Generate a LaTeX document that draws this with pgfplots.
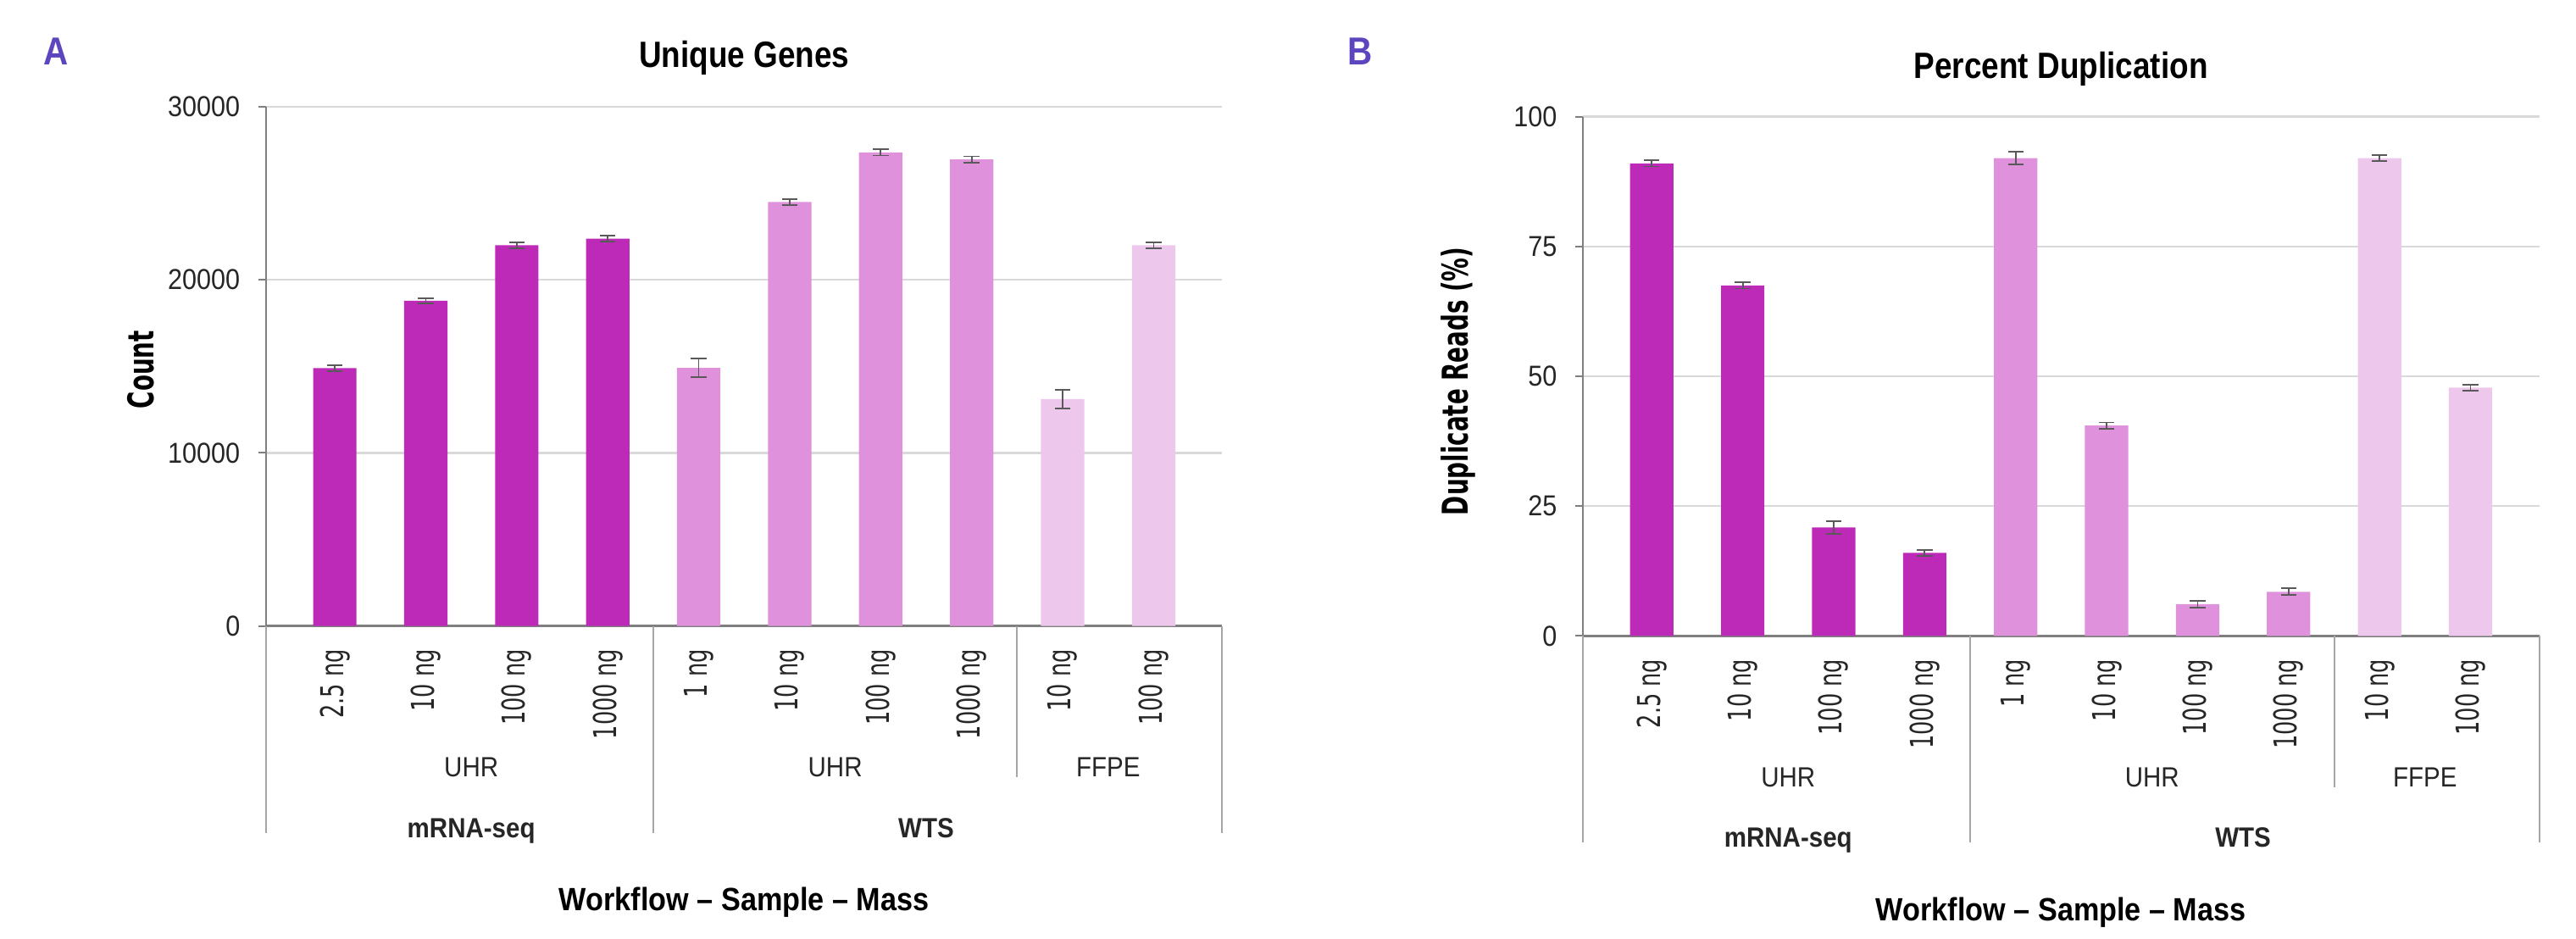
\documentclass[border=0pt]{standalone}
\usepackage{fontspec}
\setmainfont{Liberation Sans}[FakeStretch=0.9]
\newfontfamily\titlefont{Liberation Sans}[FakeStretch=0.855]
\newfontfamily\ylabfont{DejaVu Sans}[FakeStretch=0.66]
\newfontfamily\tickfont{DejaVu Sans}[FakeStretch=0.69]
\newfontfamily\panelfont{Liberation Sans}[FakeStretch=0.88]
\usepackage{pgfplots}
\usepackage{pgfplotstable}
\pgfplotsset{compat=1.18}

\definecolor{cdark}{HTML}{BD2AB8}
\definecolor{cmed}{HTML}{DF92DB}
\definecolor{clight}{HTML}{EDC8EC}
\definecolor{cpanel}{HTML}{5E45C0}
\definecolor{cgrid}{HTML}{D9D9D9}
\definecolor{caxis}{HTML}{7F7F7F}
\definecolor{csep}{HTML}{A6A6A6}
\definecolor{cerr}{HTML}{595959}
\definecolor{ctext}{HTML}{262626}

% Unique genes
\pgfplotstableread{
x y e
0 14900 160
1 18800 150
2 22000 160
3 22380 160
}\Amrna
\pgfplotstableread{
x y e
4 14920 530
5 24500 160
6 27360 175
7 26960 175
}\Awts
\pgfplotstableread{
x y e
8 13120 535
9 22000 175
}\Affpe
% Percent duplication
\pgfplotstableread{
x y e
0 91.0 0.6
1 67.5 0.6
2 20.9 1.2
3 16.0 0.6
}\Bmrna
\pgfplotstableread{
x y e
4 92.0 1.25
5 40.5 0.6
6 6.1 0.6
7 8.5 0.65
}\Bwts
\pgfplotstableread{
x y e
8 92.0 0.6
9 47.8 0.6
}\Bffpe

\pgfplotsset{
  chart/.style={
    scale only axis, width=282.09pt, height=153.16pt,
    xmin=-0.755, xmax=9.755, ymin=0,
    axis x line*=bottom, axis y line*=left,
    x axis line style={-, draw=caxis, line width=0.9pt},
    y axis line style={-, draw=caxis, line width=0.5pt},
    xtick={0,...,9},
    xticklabels={2.5 ng,10 ng,100 ng,1000 ng,1 ng,10 ng,100 ng,1000 ng,10 ng,100 ng},
    xtick style={draw=none},
    xticklabel style={rotate=90, anchor=east, inner sep=0pt,
      font=\tickfont\fontsize{9.3}{10}\selectfont, text=ctext},
    xticklabel shift=4.4pt,
    tick align=outside, major tick length=2.25pt,
    ytick style={draw=caxis, line width=0.5pt},
    scaled y ticks=false,
    yticklabel style={anchor=east, inner sep=0pt, xshift=-5.25pt,
      font=\fontsize{8.5}{10}\selectfont, text=ctext},
    /pgf/number format/assume math mode=true,
    /pgf/number format/1000 sep={},
    ymajorgrids, grid style={draw=cgrid, line width=0.6pt},
    clip=false,
  },
  bars/.style={ybar, bar width=12.8pt, bar shift=0pt, draw=none, fill=#1,
    error bars/.cd, y dir=both, y explicit, error mark=|,
    error bar style={draw=cerr, line width=0.45pt, solid},
    error mark options={draw=cerr, line width=0.45pt, mark size=2.3pt}},
}

\newcommand{\groups}{%
  \draw[csep, line width=0.5pt] (rel axis cs:0,0) -- ++(0pt,-61pt);
  \draw[csep, line width=0.5pt] (axis cs:3.5,0) -- ++(0pt,-61pt);
  \draw[csep, line width=0.5pt] (axis cs:7.5,0) -- ++(0pt,-44.6pt);
  \draw[csep, line width=0.5pt] (rel axis cs:1,0) -- ++(0pt,-61pt);
  \node[anchor=base, inner sep=0pt, text=ctext, font=\fontsize{8.2}{10}\selectfont, yshift=-44.5pt] at (axis cs:1.5,0) {UHR};
  \node[anchor=base, inner sep=0pt, text=ctext, font=\fontsize{8.2}{10}\selectfont, yshift=-44.5pt] at (axis cs:5.5,0) {UHR};
  \node[anchor=base, inner sep=0pt, text=ctext, font=\fontsize{8.2}{10}\selectfont, yshift=-44.5pt] at (axis cs:8.5,0) {FFPE};
  \node[anchor=base, inner sep=0pt, text=ctext, font=\bfseries\fontsize{8.2}{10}\selectfont, yshift=-62.4pt] at (axis cs:1.5,0) {mRNA-seq};
  \node[anchor=base, inner sep=0pt, text=ctext, font=\bfseries\fontsize{8.2}{10}\selectfont, yshift=-62.4pt] at (axis cs:6.5,0) {WTS};
}

\begin{document}
\begin{tikzpicture}
\path[use as bounding box] (0pt,0pt) rectangle (760pt,276.76pt);

\begin{axis}[chart, at={(78.52pt,92.09pt)}, anchor=south west,
  ymax=30000, ytick={0,10000,20000,30000}]
  \addplot[bars=cdark] table[x=x, y=y, y error=e] {\Amrna};
  \addplot[bars=cmed] table[x=x, y=y, y error=e] {\Awts};
  \addplot[bars=clight] table[x=x, y=y, y error=e] {\Affpe};
  \groups
\end{axis}

\begin{axis}[chart, at={(467.05pt,89.18pt)}, anchor=south west,
  ymax=100, ytick={0,25,50,75,100}]
  \addplot[bars=cdark] table[x=x, y=y, y error=e] {\Bmrna};
  \addplot[bars=cmed] table[x=x, y=y, y error=e] {\Bwts};
  \addplot[bars=clight] table[x=x, y=y, y error=e] {\Bffpe};
  \groups
\end{axis}

% panel letters
\node[anchor=base, inner sep=0pt, text=cpanel, font=\panelfont\bfseries\fontsize{11.5}{12}\selectfont] at (16.63pt,257.66pt) {A};
\node[anchor=base, inner sep=0pt, text=cpanel, font=\panelfont\bfseries\fontsize{11.5}{12}\selectfont] at (401.32pt,257.66pt) {B};

% titles
\node[anchor=base, inner sep=0pt, font=\titlefont\bfseries\fontsize{10.8}{12}\selectfont] at (219.56pt,256.79pt) {Unique Genes};
\node[anchor=base, inner sep=0pt, font=\titlefont\bfseries\fontsize{10.8}{12}\selectfont] at (608.04pt,253.54pt) {Percent Duplication};

% y labels
\node[rotate=90, inner sep=0pt, font=\ylabfont\bfseries\fontsize{10.5}{12}\selectfont] at (41.49pt,167.70pt) {Count};
\node[rotate=90, inner sep=0pt, font=\ylabfont\bfseries\fontsize{10.5}{12}\selectfont] at (430.21pt,164.31pt) {Duplicate Reads (\%)};

% x labels
\node[anchor=base, inner sep=0pt, font=\bfseries\fontsize{9.5}{11}\selectfont] at (219.56pt,8.05pt) {Workflow – Sample – Mass};
\node[anchor=base, inner sep=0pt, font=\bfseries\fontsize{9.5}{11}\selectfont] at (608.04pt,5.04pt) {Workflow – Sample – Mass};
\end{tikzpicture}
\end{document}
